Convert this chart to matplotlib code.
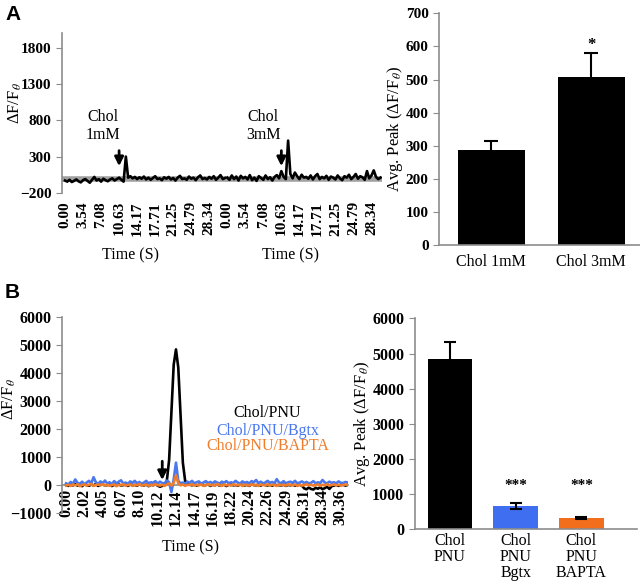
import matplotlib
matplotlib.use("Agg")
import matplotlib.pyplot as plt
from matplotlib.transforms import blended_transform_factory

plt.rcParams['font.family'] = ['Liberation Serif', 'DejaVu Serif']
plt.rcParams['mathtext.fontset'] = 'stix'

# ---- data ----
# panel A traces (two recordings placed side by side, 8 samples per label)
a_labels = ['0.00', '3.54', '7.08', '10.63', '14.17', '17.71', '21.25', '24.79', '28.34']
trace_1mm = [-30, -45, -20, -50, -35, -15, -40, -55, -25, -10, -35, -60, -20, 20, -30, -10,
             -45, -5, -25, -40, -15, 0, -30, -10, 10, -20, -45, 300, 10, 30,
             0, 20, -10, 15, -5, 25, -15, 10, -20, 5, 30, -10, 0, -25, 15, -5,
             20, -15, 5, -30, 10, 35, -10, 0, -20, 25, -5, 10, -25, 15, 40, -10,
             5, -15, 20, -5, 30, -20, 10, 45, -10, 5]
trace_3mm = [10, -20, 40, -10, 25, -30, 35, 0, 20, -15, 45, -25, 10, -35, 30, 5,
             -20, 40, -10, 15, -30, 20, 45, 0, 100, 20, -10, 520, 60, 0,
             80, 30, -10, 50, 10, 20, -5, 40, -15, 30, 60, -10, 20, 0, 35, -20,
             25, 10, -15, 40, 0, -25, 30, 10, 50, -10, 20, 60, -5, 30, 15, -20,
             100, 0, 40, 110, 20, -10, 10]
stim_a = [24, 96]
stim_a_text = ['Chol\n1mM', 'Chol\n3mM']
stim_a_textx = [17, 88]

bar_a_names = ['Chol 1mM', 'Chol 3mM']
bar_a_vals = [288, 507]
bar_a_err = [28, 72]

# panel B traces (8 samples per label)
b_labels = ['0.00', '2.02', '4.05', '6.07', '8.10', '10.12', '12.14', '14.17',
            '16.19', '18.22', '20.24', '22.26', '24.29', '26.31', '28.34', '30.36']
b_pnu = [0, -30, 20, -10, 40, -20, 10, -40, 30, 0, -25, 15, -10, 35, -30, 5,
         20, -15, 0, 30, -35, 10, -5, 25, -20, 0, 15, -30, 20, -10, 5, -25,
         30, 0, -15, 20, -40, 10, -5, 25, -20, -60, -30, 0, 150, 900, 2600, 4300,
         4850, 4200, 2500, 800, 150, 60, 20, -10, 40, -20, 10, 30, -15, 0,
         20, -30, 10, -5, 25, -20, 0, 15, -35, 10, 30, -10, 0, -25, 20, 5,
         -15, 10, -30, 25, 0, -10, 15, -20, 30, 0, -15, 10, -25, 20, -5, 0,
         -20, 15, -30, 5, -10, 20, -25, 0, 10, -20, -120, -150, -90, -140, -160, -100,
         -130, -80, -150, -110, -60, -140, -40, -20, 10, -30, 0, 10, -20, 5]
b_bgtx = [60, 20, 110, 50, 200, 80, 40, 120, 30, 90, 150, 60, 280, 100, 40, 130,
          70, 160, 50, 100, 30, 140, 60, 120, 170, 50, 90, 40, 130, 80, 150, 60,
          110, 40, 90, 150, 60, 100, 80, 140, 50, 120, 70, 60, 160, 100, -250, 200,
          800, 150, 60, 90, 40, 120, 80, 150, 60, 100, 130, 50, 90, 140, 70, 110,
          60, 130, 90, 50, 120, 80, 140, 60, 100, 70, 150, 90, 50, 130, 80, 110,
          60, 140, 100, 180, 70, 120, 60, 90, 150, 80, 110, 60, 210, 90, 70, 140,
          60, 100, 120, 80, 150, 60, 90, 130, 70, 110, 60, 80, 140, 60, 100, 70,
          180, 90, 60, 120, 80, 100, 60, 130, 80, 70, 110, 90]
b_bapta = [-20, 10, -30, 20, -10, 30, -40, 0, 20, -20, 10, 40, -30, 0, 20, -10,
           30, -20, 10, -30, 0, 20, -40, 10, -10, 30, -20, 0, 20, -30, 10, -10,
           40, -20, 0, 20, -30, 10, -10, 30, 0, -20, 10, -30, 20, 60, -20, 80,
           350, 60, -10, 20, -30, 10, 0, 30, -20, 10, -10, 20, -30, 0, 30, -10,
           10, -20, 40, 0, -30, 20, -10, 10, -20, 30, 0, -10, 20, -30, 10, 0,
           -20, 30, -10, 10, -30, 20, 0, -10, 30, -20, 10, 0, -30, 20, -10, 10,
           -20, 30, 0, -10, 20, -30, 10, -20, 0, 30, -10, 10, -20, 0, 20, -30,
           10, -10, 30, -20, 0, 20, -10, 10, -20, 0, 20, 10]
stim_b = 42

bar_b_names = ['Chol\nPNU', 'Chol\nPNU\nBgtx', 'Chol\nPNU\nBAPTA']
bar_b_vals = [4840, 660, 310]
bar_b_err = [480, 85, 30]
bar_b_colors = ['black', '#3f6ff0', '#f26d1c']
blue = '#4a78ee'
orange = '#f07d2c'
gray = '#8c8c8c'

ylab = 'ΔF/F$_{\\theta}$'
barylab = 'Avg. Peak (ΔF/F$_{\\theta}$)'

fig = plt.figure(figsize=(6.4, 5.81), dpi=100)


def style(ax, size=11):
    for s in ['top', 'right']:
        ax.spines[s].set_visible(False)
    for s in ['left', 'bottom']:
        ax.spines[s].set_color(gray)
        ax.spines[s].set_linewidth(1.2)
    ax.tick_params(axis='both', colors=gray, labelcolor='black', labelsize=size, length=4)
    for t in ax.get_yticklabels() + ax.get_xticklabels():
        t.set_fontweight('bold')


def arrow(ax, x, y0, y1):
    ax.annotate('', xy=(x, y1), xytext=(x, y0),
                arrowprops=dict(arrowstyle='-|>', color='black', lw=2, mutation_scale=13))


# ---- A, traces ----
ax1 = fig.add_axes([0.097, 0.668, 0.5, 0.275])
n1 = len(trace_1mm)
x1 = list(range(n1))
x2 = list(range(n1, n1 + len(trace_3mm)))
ax1.axhline(-10, color='#a0a0a0', lw=4, zorder=1)
ax1.plot(x1, trace_1mm, color='black', lw=1.9, zorder=2)
ax1.plot(x2, trace_3mm, color='black', lw=1.9, zorder=2)
ax1.set_xlim(-1.3, n1 + len(trace_3mm) - 0.3)
ax1.set_ylim(-200, 2000)
ax1.set_yticks([-200, 300, 800, 1300, 1800])
ticks = [i * 8 for i in range(9)] + [n1 + i * 8 for i in range(9)]
ax1.set_xticks(ticks)
ax1.set_xticklabels(a_labels + a_labels, rotation=90)
style(ax1)
ax1.spines['bottom'].set_visible(False)
ax1.tick_params(axis='x', length=0, pad=6)
ax1.set_ylabel(ylab, fontsize=12)
ax1.yaxis.set_label_coords(-0.12, 0.56)
for sx, tx, tt in zip(stim_a, stim_a_textx, stim_a_text):
    arrow(ax1, sx, 420, 130)
    ax1.text(tx, 720, tt, ha='center', va='center', fontsize=11.5, linespacing=1.1)
tr = blended_transform_factory(ax1.transData, fig.transFigure)
ax1.text(29, 1 - 255 / 581, 'Time (S)', transform=tr, ha='center', va='center', fontsize=11.5)
ax1.text(100, 1 - 255 / 581, 'Time (S)', transform=tr, ha='center', va='center', fontsize=11.5)

# ---- A, bars ----
ax2 = fig.add_axes([0.686, 0.578, 0.314, 0.399])
ax2.bar(range(2), bar_a_vals, width=0.67, color='black', zorder=2)
ax2.errorbar(range(2), bar_a_vals, yerr=bar_a_err, fmt='none', ecolor='black',
             elinewidth=1.5, capsize=5, capthick=1.5, zorder=3)
ax2.text(1, bar_a_vals[1] + bar_a_err[1] + 25, '*', ha='center', va='center',
         fontsize=12, fontweight='bold')
ax2.set_xlim(-0.52, 1.49)
ax2.set_ylim(0, 700)
ax2.set_yticks(range(0, 701, 100))
ax2.set_xticks(range(2))
ax2.set_xticklabels(bar_a_names)
style(ax2)
ax2.tick_params(axis='x', length=0, labelsize=11.5, pad=6)
for t in ax2.get_xticklabels():
    t.set_fontweight('normal')
ax2.set_ylabel(barylab, fontsize=12)
ax2.yaxis.set_label_coords(-0.17, 0.5)

# ---- B, traces ----
ax3 = fig.add_axes([0.097, 0.117, 0.447, 0.337])
ax3.spines['bottom'].set_position(('data', 0))
ax3.plot(range(len(b_pnu)), b_pnu, color='black', lw=1.9, zorder=2)
ax3.plot(range(len(b_bgtx)), b_bgtx, color=blue, lw=1.9, zorder=3)
ax3.plot(range(len(b_bapta)), b_bapta, color=orange, lw=1.9, zorder=4)
ax3.set_xlim(-1.75, 123.2)
ax3.set_ylim(-1000, 6000)
ax3.set_yticks(range(-1000, 6001, 1000))
ax3.set_xticks([i * 8 for i in range(len(b_labels))])
ax3.set_xticklabels(b_labels, rotation=90)
style(ax3, 11.5)
ax3.tick_params(axis='x', length=0, pad=3, labelrotation=90)
ax3.set_ylabel(ylab, fontsize=12)
ax3.yaxis.set_label_coords(-0.155, 0.58)
arrow(ax3, stim_b, 950, 80)
ax3.text(88, 2580, 'Chol/PNU', color='black', ha='center', va='center', fontsize=11.5)
ax3.text(88, 1950, 'Chol/PNU/Bgtx', color=blue, ha='center', va='center', fontsize=11.5)
ax3.text(88, 1380, 'Chol/PNU/BAPTA', color=orange, ha='center', va='center', fontsize=11.5)
tr3 = blended_transform_factory(ax3.transAxes, fig.transFigure)
ax3.text(0.45, 1 - 547 / 581, 'Time (S)', transform=tr3, ha='center', va='center', fontsize=11.5)

# ---- B, bars ----
ax4 = fig.add_axes([0.648, 0.089, 0.348, 0.363])
ax4.bar(range(3), bar_b_vals, width=0.67, color=bar_b_colors, zorder=2)
ax4.errorbar(range(3), bar_b_vals, yerr=bar_b_err, fmt='none', ecolor='black',
             elinewidth=1.5, capsize=4, capthick=1.5, zorder=3)
for i in [1, 2]:
    ax4.text(i, 1250, '***', ha='center', va='center', fontsize=11, fontweight='bold')
ax4.set_xlim(-0.53, 2.85)
ax4.set_ylim(0, 6000)
ax4.set_yticks(range(0, 6001, 1000))
ax4.set_xticks(range(3))
ax4.set_xticklabels(bar_b_names, va='top')
style(ax4, 11.5)
ax4.tick_params(axis='x', length=0, labelsize=11.5, pad=3)
for t in ax4.get_xticklabels():
    t.set_fontweight('normal')
    t.set_linespacing(1.0)
ax4.set_ylabel(barylab, fontsize=12)
ax4.yaxis.set_label_coords(-0.19, 0.5)

fig.text(0.008, 0.975, 'A', fontsize=15, fontweight='bold', family='Liberation Sans', va='center')
fig.text(0.008, 0.496, 'B', fontsize=15, fontweight='bold', family='Liberation Sans', va='center')

fig.savefig('out.png', dpi=100)
